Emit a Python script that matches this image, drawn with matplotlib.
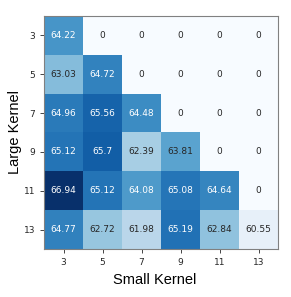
import matplotlib

matplotlib.use("Agg")
import matplotlib.pyplot as plt
import numpy as np

small_kernel = [3, 5, 7, 9, 11, 13]
large_kernel = [3, 5, 7, 9, 11, 13]

# rows = large kernel, cols = small kernel
acc_3 = [64.22, 0, 0, 0, 0, 0]
acc_5 = [63.03, 64.72, 0, 0, 0, 0]
acc_7 = [64.96, 65.56, 64.48, 0, 0, 0]
acc_9 = [65.12, 65.7, 62.39, 63.81, 0, 0]
acc_11 = [66.94, 65.12, 64.08, 65.08, 64.64, 0]
acc_13 = [64.77, 62.72, 61.98, 65.19, 62.84, 60.55]

grid = np.array([acc_3, acc_5, acc_7, acc_9, acc_11, acc_13])

cmap = plt.get_cmap("Blues")
norm = matplotlib.colors.Normalize(vmin=60, vmax=grid.max())

fig = plt.figure(figsize=(2.91, 2.97), dpi=100)
ax = fig.add_axes([44 / 291, 1 - 249 / 297, 234 / 291, 233 / 297])
ax.imshow(grid, cmap=cmap, norm=norm, aspect="auto")

for i in range(grid.shape[0]):
    for j in range(grid.shape[1]):
        v = grid[i, j]
        # light text only on the darker half of the scale
        ax.text(j, i, f"{v:g}", ha="center", va="center", fontsize=6.5,
                color="white" if norm(v) > 0.57 else "#262626")

ax.set_xticks(range(len(small_kernel)))
ax.set_xticklabels(small_kernel)
ax.set_yticks(range(len(large_kernel)))
ax.set_yticklabels(large_kernel)
ax.tick_params(labelsize=6.5, length=3, width=0.6, colors="#262626")
for s in ax.spines.values():
    s.set_color("#808080")
    s.set_linewidth(0.8)
ax.set_xlabel("Small Kernel", fontsize=10.5, family="Liberation Sans")
ax.xaxis.set_label_coords(0.472, -0.102)
ax.set_ylabel("Large Kernel", fontsize=10.5, family="Liberation Sans", labelpad=1)

fig.savefig("out.png", dpi=100)
